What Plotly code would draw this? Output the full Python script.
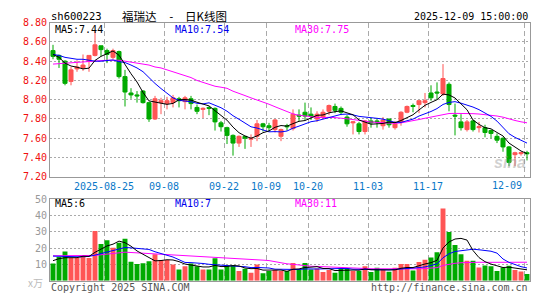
import plotly.graph_objects as go

# ---------------- data ----------------
opens = [8.51, 8.46, 8.40, 8.19, 8.32, 8.33, 8.40, 8.46, 8.56, 8.51,
         8.44, 8.50, 8.24, 8.07, 8.05, 8.09, 7.97, 7.80, 7.97, 7.96,
         7.97, 8.01, 7.98, 8.01, 7.92, 7.90, 7.92, 7.91, 7.76, 7.71,
         7.63, 7.55, 7.62, 7.59, 7.62, 7.75, 7.73, 7.69, 7.62, 7.73,
         7.70, 7.84, 7.87, 7.85, 7.80, 7.82, 7.88, 7.93, 7.91, 7.82,
         7.76, 7.75, 7.67, 7.78, 7.78, 7.73, 7.80, 7.71, 7.77, 7.87,
         7.94, 7.95, 7.97, 8.07, 8.08, 8.06, 8.16, 7.84, 7.77, 7.69,
         7.78, 7.71, 7.71, 7.68, 7.62, 7.60, 7.51, 7.43, 7.44, 7.45]
highs = [8.57, 8.47, 8.41, 8.34, 8.41, 8.47, 8.46, 8.71, 8.56, 8.53,
         8.53, 8.51, 8.31, 8.12, 8.09, 8.10, 7.98, 8.04, 8.02, 8.03,
         8.05, 8.03, 8.04, 8.04, 7.95, 7.92, 7.93, 7.92, 7.78, 7.72,
         7.64, 7.63, 7.62, 7.64, 7.79, 7.76, 7.76, 7.80, 7.70, 7.75,
         7.90, 7.90, 7.97, 7.92, 7.88, 7.90, 7.95, 7.96, 7.93, 7.84,
         7.78, 7.77, 7.79, 7.81, 7.81, 7.82, 7.80, 7.78, 7.88, 7.94,
         7.96, 7.99, 8.07, 8.15, 8.18, 8.37, 8.18, 7.96, 7.85, 7.79,
         7.79, 7.77, 7.74, 7.69, 7.65, 7.61, 7.52, 7.46, 7.46, 7.47]
lows = [8.42, 8.33, 8.15, 8.15, 8.29, 8.30, 8.29, 8.45, 8.45, 8.38,
        8.42, 8.22, 7.93, 8.01, 7.97, 7.96, 7.77, 7.79, 7.85, 7.90,
        7.92, 7.92, 7.90, 7.90, 7.85, 7.81, 7.84, 7.68, 7.67, 7.54,
        7.42, 7.51, 7.49, 7.51, 7.57, 7.67, 7.67, 7.66, 7.57, 7.68,
        7.68, 7.78, 7.79, 7.79, 7.77, 7.80, 7.84, 7.86, 7.84, 7.72,
        7.64, 7.64, 7.64, 7.71, 7.71, 7.69, 7.71, 7.69, 7.73, 7.86,
        7.87, 7.86, 7.92, 7.99, 8.00, 8.04, 7.88, 7.63, 7.68, 7.67,
        7.67, 7.66, 7.61, 7.60, 7.55, 7.46, 7.31, 7.31, 7.42, 7.37]
closes = [8.45, 8.42, 8.17, 8.31, 8.34, 8.36, 8.46, 8.57, 8.52, 8.47,
          8.51, 8.24, 8.08, 8.05, 8.04, 7.97, 7.80, 8.01, 7.99, 7.99,
          8.02, 7.99, 8.02, 7.96, 7.88, 7.91, 7.91, 7.77, 7.72, 7.63,
          7.55, 7.62, 7.60, 7.60, 7.75, 7.72, 7.71, 7.79, 7.69, 7.72,
          7.85, 7.83, 7.83, 7.83, 7.85, 7.87, 7.94, 7.89, 7.87, 7.75,
          7.77, 7.67, 7.78, 7.76, 7.77, 7.79, 7.74, 7.75, 7.87, 7.93,
          7.93, 7.99, 7.99, 8.02, 8.07, 8.22, 7.95, 7.83, 7.71, 7.77,
          7.69, 7.72, 7.66, 7.65, 7.58, 7.51, 7.35, 7.45, 7.45, 7.44]
volumes = [10.6, 14.6, 18.0, 14.0, 14.0, 15.0, 14.0, 30.6, 22.6, 25.0,
           20.4, 23.4, 25.8, 11.8, 10.4, 10.8, 12.0, 16.4, 12.8, 12.8,
           10.0, 7.0, 9.0, 10.6, 9.0, 7.0, 7.0, 13.8, 7.0, 9.4,
           9.6, 6.0, 7.4, 5.0, 10.0, 4.6, 6.0, 6.6, 6.0, 6.0,
           11.0, 7.0, 11.0, 7.0, 7.6, 5.4, 6.6, 5.0, 8.0, 7.6,
           6.0, 6.0, 9.0, 5.4, 8.0, 6.6, 5.6, 8.0, 10.4, 10.4,
           6.4, 11.6, 13.0, 14.4, 17.6, 44.4, 30.0, 22.0, 16.4, 12.4,
           12.4, 8.2, 9.5, 9.0, 6.0, 8.2, 9.2, 6.6, 5.7, 4.2]

# moving-average values at the start of the window (their history is off-chart)
ma5_head = [8.47, 8.44, 8.38, 8.35]
ma10_head = [8.47, 8.46, 8.44, 8.43, 8.42, 8.42, 8.41, 8.40, 8.40]
ma30_head = [8.37, 8.375, 8.38, 8.385, 8.39, 8.39, 8.40, 8.40, 8.405, 8.41,
             8.41, 8.41, 8.40, 8.39, 8.38, 8.37, 8.36, 8.34, 8.33, 8.31,
             8.29, 8.27, 8.25, 8.23, 8.20, 8.18, 8.16, 8.14, 8.13]
vma5_head = [12.4, 13.6, 14.2, 14.2]
vma10_head = [15.2, 15.0, 15.0, 15.0, 14.8, 14.8, 15.0, 15.8, 16.8]
vma30_head = [15.4, 15.4, 15.4, 15.4, 15.4, 15.4, 15.4, 15.6, 16.0, 16.4,
              16.8, 17.2, 17.6, 17.4, 17.2, 17.0, 16.8, 16.6, 16.4, 16.2,
              16.0, 15.8, 15.5, 15.2, 15.0, 14.9, 14.8, 14.6, 14.4]

tick_idx = [9, 19, 29, 36, 43, 53, 63, 79]
tick_text = ["2025-08-25", "09-08", "09-22", "10-09", "10-20", "11-03", "11-17", "12-09"]
price_ticks = [7.20, 7.40, 7.60, 7.80, 8.00, 8.20, 8.40, 8.60, 8.80]
vol_ticks = [10, 20, 30, 40, 50]

code = "sh600223"
name = "福瑞达"
chart_kind = "日K线图"
stamp = "2025-12-09 15:00:00"
price_labels = ["MA5:7.44", "MA10:7.54", "MA30:7.75"]
vol_labels = ["MA5:6", "MA10:7", "MA30:11"]

# ---------------- helpers ----------------
W, H = 545, 300
def px(x): return x / W
def py(y): return 1 - y / H

X0, X1 = 50, 530
MAIN_TOP, MAIN_BOT = 17.3, 177.3
VOL_TOP, VOL_BOT = 200.8, 285.3

def rolling(vals, n, head):
    out = list(head)
    for i in range(len(head), len(vals)):
        out.append(sum(vals[i - n + 1:i + 1]) / n)
    return out

idx = list(range(len(closes)))
ma5 = rolling(closes, 5, ma5_head)
ma10 = rolling(closes, 10, ma10_head)
ma30 = rolling(closes, 30, ma30_head)
vma5 = rolling(volumes, 5, vma5_head)
vma10 = rolling(volumes, 10, vma10_head)
vma30 = rolling(volumes, 30, vma30_head)

RED = "#ff5555"
GREEN = "#00aa00"
C5, C10, C30 = "#000000", "#0000ff", "#ff00ff"
GRID = "#aaaaaa"
BORDER = "#999999"
MONO = "DejaVu Sans Mono"
CJK = "Noto Sans CJK SC"

fig = go.Figure()
fig.add_trace(go.Candlestick(
    x=idx, open=opens, high=highs, low=lows, close=closes,
    increasing=dict(line=dict(color=RED, width=1), fillcolor=RED),
    decreasing=dict(line=dict(color=GREEN, width=1), fillcolor=GREEN),
    whiskerwidth=0, hoverinfo="skip", xaxis="x", yaxis="y"))
for ys, c in ((ma30, C30), (ma10, C10), (ma5, C5)):
    fig.add_trace(go.Scatter(x=idx, y=ys, mode="lines", line=dict(color=c, width=1),
                             hoverinfo="skip", xaxis="x", yaxis="y"))

bar_colors = [RED if c > o else GREEN for o, c in zip(opens, closes)]
fig.add_trace(go.Bar(x=idx, y=volumes, marker=dict(color=bar_colors, line=dict(width=0)),
                     width=0.82, hoverinfo="skip", xaxis="x2", yaxis="y2"))
for ys, c in ((vma30, C30), (vma10, C10), (vma5, C5)):
    fig.add_trace(go.Scatter(x=idx, y=ys, mode="lines", line=dict(color=c, width=1),
                             hoverinfo="skip", xaxis="x2", yaxis="y2"))

xgrid = [t - 0.5 for t in tick_idx]
common_x = dict(domain=[px(X0), px(X1)], range=[-0.5, len(idx) - 0.5],
                tickmode="array", tickvals=xgrid, showgrid=True, gridcolor=GRID,
                griddash="5px,3px", gridwidth=1, showline=True, linecolor=BORDER,
                linewidth=1, mirror=True, ticks="", zeroline=False, fixedrange=True)

# every date label but the last is centred on its grid line; the last one is set
# flush-right inside the frame (as in the reference), so it is placed separately
fig.update_layout(
    width=W, height=H, margin=dict(l=0, r=0, t=0, b=0),
    paper_bgcolor="white", plot_bgcolor="white", showlegend=False,
    font=dict(family=MONO, size=10, color="#000"),
    boxgap=0.18, boxgroupgap=0.18,
    xaxis=dict(**common_x, anchor="y", ticktext=tick_text[:-1] + [""],
               tickfont=dict(family=MONO, size=10, color="#0a78c8"),
               rangeslider=dict(visible=False)),
    yaxis=dict(domain=[py(MAIN_BOT), py(MAIN_TOP)], range=[price_ticks[0], price_ticks[-1]],
               tickmode="array", tickvals=price_ticks,
               ticktext=[f"{v:.2f}" for v in price_ticks],
               tickfont=dict(family=MONO, size=10, color="#f01010"),
               showgrid=True, gridcolor=GRID, griddash="2px,2px", showline=True,
               linecolor=BORDER, linewidth=1, mirror=True, ticks="", zeroline=False,
               anchor="x", fixedrange=True),
    xaxis2=dict(**common_x, anchor="y2", showticklabels=False),
    yaxis2=dict(domain=[py(VOL_BOT), py(VOL_TOP)], range=[0, vol_ticks[-1]],
                tickmode="array", tickvals=vol_ticks,
                ticktext=[str(v) for v in vol_ticks],
                tickfont=dict(family=MONO, size=10, color="#999999"),
                showgrid=True, gridcolor=GRID, griddash="2px,2px", showline=True,
                linecolor=BORDER, linewidth=1, mirror=True, ticks="", zeroline=False,
                anchor="x2", fixedrange=True),
)

def note(text, x, y, anchor="left", color="#000", size=10, family=MONO, **kw):
    fig.add_annotation(text=text, x=px(x), y=py(y), xref="paper", yref="paper",
                       xanchor=anchor, yanchor="middle", showarrow=False, borderpad=0,
                       font=dict(family=family, size=size, color=color), **kw)

# last date label, right-aligned just inside the right frame
note(tick_text[-1], 523, 186.5, anchor="right", color="#0a78c8")

note(code, 50, 10.5, size=10.5)
note(name, 121, 10.3, size=11.5, family=CJK)
note("-", 171, 10.5, anchor="center", size=11)
note(chart_kind, 184, 10.3, size=11.5, family=CJK)
note(stamp, 529, 10.5, anchor="right")

for lab, x, c in zip(price_labels, (54, 174, 294), (C5, "#0000ee", C30)):
    note(lab, x, 24.8, color=c)
for lab, x, c in zip(vol_labels, (54, 174, 294), (C5, "#0000ee", C30)):
    note(lab, x, 205.5, color=c)

note("x万", 44, 287, anchor="right", color="#bbbbbb", size=10, family=CJK)
note("Copyright 2025 SINA.COM", 50, 292.5, color="#555555")
note("http://finance.sina.com.cn", 529, 292.5, anchor="right", color="#555555")
note("<b><i>sina</i></b>", 527, 162, anchor="right", color="rgba(150,150,150,0.45)",
     size=16, family="Liberation Sans")

fig.write_html("out.html")
